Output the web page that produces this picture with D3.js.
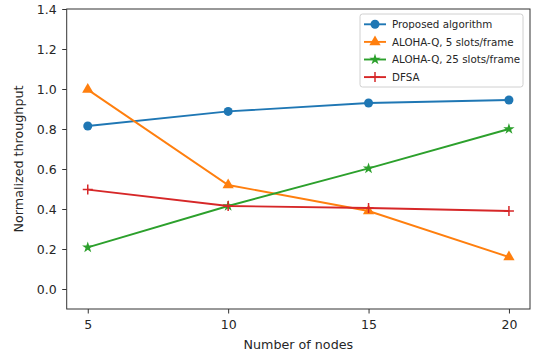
<html>
<script src="https://d3js.org/d3.v7.min.js"></script>
<style>
    body { margin: 0; background: white; }
    text { font-family: "DejaVu Sans", sans-serif; fill: #262626; }
</style>
<body>
<div id="chart"></div>
<script>
    // data
    const nodes = [5, 10, 15, 20];
    const proposed = [0.815, 0.888, 0.93, 0.945];
    const alohaQ5 = [0.997, 0.52, 0.39, 0.16];
    const alohaQ25 = [0.208, 0.415, 0.603, 0.80];
    const dfsa = [0.497, 0.415, 0.405, 0.39];
    const yTicks = [0.0, 0.2, 0.4, 0.6, 0.8, 1.0, 1.2, 1.4];

    const seriesNames = ["Proposed algorithm", "ALOHA-Q, 5 slots/frame", "ALOHA-Q, 25 slots/frame", "DFSA"];
    const seriesValues = [proposed, alohaQ5, alohaQ25, dfsa];
    const colors = ["#1f77b4", "#ff7f0e", "#2ca02c", "#d62728"];
    const markers = ["circle", "triangle", "star", "plus"];

    const width = 533, height = 354;
    const plotLeft = 66.7, plotRight = 530, plotTop = 9, plotBottom = 309;

    const svg = d3.select("#chart").append("svg")
        .attr("width", width)
        .attr("height", height);

    svg.append("rect").attr("width", width).attr("height", height).attr("fill", "white");

    const x = d3.scaleLinear().domain([4.25, 20.75]).range([plotLeft, plotRight]);
    const y = d3.scaleLinear().domain([-0.1, 1.4]).range([plotBottom, plotTop]);

    // axes
    const xAxis = svg.append("g")
        .attr("transform", `translate(0,${plotBottom})`)
        .call(d3.axisBottom(x).tickValues(nodes).tickSize(4.5).tickPadding(7).tickSizeOuter(0));
    const yAxis = svg.append("g")
        .attr("transform", `translate(${plotLeft},0)`)
        .call(d3.axisLeft(y).tickValues(yTicks).tickFormat(d3.format(".1f")).tickSize(4.5).tickPadding(5.5).tickSizeOuter(0));
    [xAxis, yAxis].forEach(a => {
        a.select(".domain").remove();
        a.selectAll("line").attr("stroke", "#333").attr("stroke-width", 1);
        a.selectAll("text").style("font-family", "DejaVu Sans").style("font-size", "12.5px").attr("fill", "#262626");
    });

    // frame
    svg.append("rect")
        .attr("x", plotLeft).attr("y", plotTop)
        .attr("width", plotRight - plotLeft).attr("height", plotBottom - plotTop)
        .attr("fill", "none").attr("stroke", "#333").attr("stroke-width", 1);

    function drawMarker(g, type, cx, cy, color) {
        if (type == "circle") {
            g.append("circle").attr("cx", cx).attr("cy", cy).attr("r", 4.5).attr("fill", color);
        } else if (type == "triangle") {
            g.append("path").attr("transform", `translate(${cx},${cy})`)
                .attr("d", d3.symbol(d3.symbolTriangle, 55)()).attr("fill", color);
        } else if (type == "star") {
            g.append("path").attr("transform", `translate(${cx},${cy})`)
                .attr("d", d3.symbol(d3.symbolStar, 40)()).attr("fill", color);
        } else {
            g.append("path")
                .attr("d", `M${cx - 5},${cy}H${cx + 5}M${cx},${cy - 5}V${cy + 5}`)
                .attr("stroke", color).attr("stroke-width", 1.5).attr("fill", "none");
        }
    }

    const line = d3.line().x((d, i) => x(nodes[i])).y(d => y(d));

    seriesValues.forEach((vals, k) => {
        const g = svg.append("g");
        g.append("path")
            .datum(vals)
            .attr("d", line)
            .attr("fill", "none")
            .attr("stroke", colors[k])
            .attr("stroke-width", 1.9);
        vals.forEach((v, i) => drawMarker(g, markers[k], x(nodes[i]), y(v), colors[k]));
    });

    // axis labels
    svg.append("text")
        .attr("x", (plotLeft + plotRight) / 2).attr("y", 349)
        .attr("text-anchor", "middle")
        .style("font-size", "12.7px")
        .text("Number of nodes");
    svg.append("text")
        .attr("transform", `translate(23,${(plotTop + plotBottom) / 2}) rotate(-90)`)
        .attr("text-anchor", "middle")
        .style("font-size", "12.7px")
        .text("Normalized throughput");

    // legend
    const legend = svg.append("g");
    legend.append("rect")
        .attr("x", 360).attr("y", 14).attr("width", 163).attr("height", 73)
        .attr("rx", 2.5)
        .attr("fill", "white").attr("fill-opacity", 0.8)
        .attr("stroke", "#d0d0d0").attr("stroke-width", 1);
    seriesNames.forEach((name, k) => {
        const ly = 24.3 + k * 17.6;
        legend.append("line")
            .attr("x1", 364).attr("x2", 386).attr("y1", ly).attr("y2", ly)
            .attr("stroke", colors[k]).attr("stroke-width", 1.9);
        drawMarker(legend, markers[k], 375, ly, colors[k]);
        legend.append("text")
            .attr("x", 392).attr("y", ly + 3.7)
            .style("font-size", "10.3px")
            .text(name);
    });
</script>
</body>
</html>
